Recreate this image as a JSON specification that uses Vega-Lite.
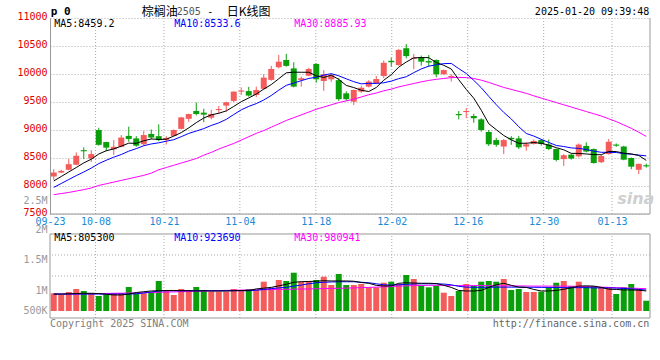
{
"$schema": "https://vega.github.io/schema/vega-lite/v6.json",
"width": 600,
"height": 300,
"autosize": {"type": "none"},
"padding": {"left": 50, "top": 18, "right": 10, "bottom": 42},
"background": "#ffffff",
"config": {"view": {"stroke": null}},
"datasets": {"k": [
{"d":"09-23","o":8170,"h":8300,"l":8110,"c":8240,"v":845000,"m5":8090,"m10":7975,"m30":7845,"vm5":830000,"vm10":830000,"vm30":825000},
{"d":"09-24","o":8240,"h":8290,"l":8230,"c":8270,"v":812000,"m5":8170,"m10":8045,"m30":7865,"vm5":830000,"vm10":830000,"vm30":828000},
{"d":"09-25","o":8290,"h":8480,"l":8280,"c":8390,"v":870000,"m5":8250,"m10":8115,"m30":7885,"vm5":835000,"vm10":830000,"vm30":830000},
{"d":"09-26","o":8380,"h":8600,"l":8370,"c":8540,"v":929000,"m5":8330,"m10":8185,"m30":7910,"vm5":840000,"vm10":830000,"vm30":833000},
{"d":"09-27","o":8640,"h":8690,"l":8480,"c":8620,"v":890000,"m5":8412,"m10":8250,"m30":7935,"vm5":845000,"vm10":830000,"vm30":835000},
{"d":"09-30","o":8490,"h":8640,"l":8430,"c":8570,"v":845000,"m5":8478,"m10":8320,"m30":7965,"vm5":845000,"vm10":830000,"vm30":838000},
{"d":"10-08","o":9000,"h":9040,"l":8720,"c":8735,"v":792000,"m5":8571,"m10":8400,"m30":8010,"vm5":840000,"vm10":830000,"vm30":840000},
{"d":"10-09","o":8785,"h":8790,"l":8620,"c":8685,"v":818000,"m5":8630,"m10":8460,"m30":8040,"vm5":825000,"vm10":830000,"vm30":842000},
{"d":"10-10","o":8655,"h":8820,"l":8555,"c":8700,"v":851000,"m5":8662,"m10":8515,"m30":8070,"vm5":812000,"vm10":830000,"vm30":845000},
{"d":"10-11","o":8700,"h":8910,"l":8690,"c":8865,"v":851000,"m5":8711,"m10":8562,"m30":8100,"vm5":812000,"vm10":830000,"vm30":847000},
{"d":"10-14","o":8895,"h":9060,"l":8790,"c":8840,"v":968000,"m5":8765,"m10":8622,"m30":8130,"vm5":830000,"vm10":830000,"vm30":850000},
{"d":"10-15","o":8850,"h":8890,"l":8700,"c":8720,"v":845000,"m5":8762,"m10":8667,"m30":8160,"vm5":860000,"vm10":835000,"vm30":853000},
{"d":"10-16","o":8745,"h":8980,"l":8720,"c":8910,"v":845000,"m5":8807,"m10":8719,"m30":8190,"vm5":875000,"vm10":850000,"vm30":856000},
{"d":"10-17","o":8930,"h":9010,"l":8835,"c":8865,"v":864000,"m5":8840,"m10":8751,"m30":8230,"vm5":890000,"vm10":870000,"vm30":860000},
{"d":"10-18","o":8890,"h":9100,"l":8800,"c":8820,"v":1084000,"m5":8831,"m10":8771,"m30":8290,"vm5":895000,"vm10":890000,"vm30":864000},
{"d":"10-21","o":8825,"h":8890,"l":8740,"c":8860,"v":909000,"m5":8835,"m10":8800,"m30":8330,"vm5":900000,"vm10":895000,"vm30":868000},
{"d":"10-22","o":8895,"h":9010,"l":8890,"c":9000,"v":812000,"m5":8891,"m10":8827,"m30":8370,"vm5":900000,"vm10":895000,"vm30":872000},
{"d":"10-23","o":9020,"h":9235,"l":9010,"c":9225,"v":929000,"m5":8954,"m10":8881,"m30":8410,"vm5":895000,"vm10":895000,"vm30":876000},
{"d":"10-24","o":9200,"h":9290,"l":9145,"c":9285,"v":909000,"m5":9038,"m10":8939,"m30":8450,"vm5":895000,"vm10":895000,"vm30":880000},
{"d":"10-25","o":9340,"h":9490,"l":9260,"c":9285,"v":968000,"m5":9131,"m10":8981,"m30":8490,"vm5":890000,"vm10":895000,"vm30":884000},
{"d":"10-28","o":9310,"h":9380,"l":9140,"c":9275,"v":909000,"m5":9214,"m10":9025,"m30":8550,"vm5":895000,"vm10":895000,"vm30":888000},
{"d":"10-29","o":9220,"h":9360,"l":9190,"c":9285,"v":877000,"m5":9271,"m10":9081,"m30":8600,"vm5":890000,"vm10":895000,"vm30":892000},
{"d":"10-30","o":9355,"h":9430,"l":9290,"c":9375,"v":877000,"m5":9299,"m10":9127,"m30":8660,"vm5":890000,"vm10":895000,"vm30":896000},
{"d":"10-31","o":9435,"h":9505,"l":9330,"c":9495,"v":877000,"m5":9341,"m10":9190,"m30":8710,"vm5":890000,"vm10":895000,"vm30":900000},
{"d":"11-01","o":9520,"h":9690,"l":9500,"c":9685,"v":929000,"m5":9421,"m10":9276,"m30":8760,"vm5":895000,"vm10":895000,"vm30":905000},
{"d":"11-04","o":9685,"h":9760,"l":9625,"c":9705,"v":890000,"m5":9506,"m10":9360,"m30":8820,"vm5":900000,"vm10":895000,"vm30":907000},
{"d":"11-05","o":9695,"h":9770,"l":9595,"c":9615,"v":929000,"m5":9572,"m10":9422,"m30":8880,"vm5":900000,"vm10":895000,"vm30":910000},
{"d":"11-06","o":9625,"h":9775,"l":9585,"c":9715,"v":909000,"m5":9642,"m10":9471,"m30":8940,"vm5":930000,"vm10":905000,"vm30":912000},
{"d":"11-07","o":9735,"h":9995,"l":9720,"c":9935,"v":1071000,"m5":9730,"m10":9536,"m30":8990,"vm5":945000,"vm10":920000,"vm30":915000},
{"d":"11-08","o":9895,"h":10145,"l":9880,"c":10090,"v":954000,"m5":9811,"m10":9616,"m30":9050,"vm5":960000,"vm10":935000,"vm30":917000},
{"d":"11-11","o":10120,"h":10340,"l":10100,"c":10220,"v":1104000,"m5":9915,"m10":9711,"m30":9110,"vm5":990000,"vm10":950000,"vm30":920000},
{"d":"11-12","o":10250,"h":10360,"l":10130,"c":10145,"v":1084000,"m5":10021,"m10":9797,"m30":9170,"vm5":1020000,"vm10":960000,"vm30":922000},
{"d":"11-13","o":10100,"h":10210,"l":9760,"c":9775,"v":1246000,"m5":10033,"m10":9838,"m30":9220,"vm5":1060000,"vm10":985000,"vm30":925000},
{"d":"11-14","o":9895,"h":9955,"l":9775,"c":9925,"v":1071000,"m5":10031,"m10":9881,"m30":9270,"vm5":1071000,"vm10":1005000,"vm30":928000},
{"d":"11-15","o":9970,"h":10110,"l":9960,"c":10090,"v":1084000,"m5":10031,"m10":9921,"m30":9320,"vm5":1075000,"vm10":1030000,"vm30":930000},
{"d":"11-18","o":10180,"h":10190,"l":9845,"c":9905,"v":1104000,"m5":9968,"m10":9942,"m30":9370,"vm5":1080000,"vm10":1050000,"vm30":933000},
{"d":"11-19","o":9875,"h":10070,"l":9700,"c":9995,"v":1168000,"m5":9938,"m10":9980,"m30":9410,"vm5":1090000,"vm10":1060000,"vm30":937000},
{"d":"11-20","o":9905,"h":10010,"l":9860,"c":9980,"v":1006000,"m5":9979,"m10":10006,"m30":9450,"vm5":1085000,"vm10":1065000,"vm30":940000},
{"d":"11-21","o":9890,"h":9925,"l":9520,"c":9550,"v":1221000,"m5":9904,"m10":9968,"m30":9490,"vm5":1085000,"vm10":1070000,"vm30":942000},
{"d":"11-22","o":9655,"h":9690,"l":9520,"c":9550,"v":1006000,"m5":9796,"m10":9914,"m30":9520,"vm5":1085000,"vm10":1070000,"vm30":945000},
{"d":"11-25","o":9505,"h":9720,"l":9445,"c":9715,"v":1006000,"m5":9758,"m10":9863,"m30":9550,"vm5":1080000,"vm10":1070000,"vm30":950000},
{"d":"11-26","o":9685,"h":9790,"l":9660,"c":9755,"v":1026000,"m5":9710,"m10":9824,"m30":9590,"vm5":1055000,"vm10":1060000,"vm30":955000},
{"d":"11-27","o":9775,"h":9890,"l":9760,"c":9865,"v":961000,"m5":9687,"m10":9833,"m30":9630,"vm5":1040000,"vm10":1050000,"vm30":960000},
{"d":"11-28","o":9835,"h":9965,"l":9820,"c":9910,"v":961000,"m5":9759,"m10":9832,"m30":9660,"vm5":1000000,"vm10":1030000,"vm30":965000},
{"d":"11-29","o":9965,"h":10240,"l":9925,"c":10200,"v":1051000,"m5":9889,"m10":9843,"m30":9700,"vm5":987000,"vm10":1010000,"vm30":970000},
{"d":"12-02","o":10235,"h":10290,"l":10130,"c":10210,"v":1071000,"m5":9988,"m10":9873,"m30":9730,"vm5":990000,"vm10":1005000,"vm30":975000},
{"d":"12-03","o":10160,"h":10445,"l":10150,"c":10430,"v":1026000,"m5":10123,"m10":9917,"m30":9770,"vm5":1040000,"vm10":1010000,"vm30":985000},
{"d":"12-04","o":10460,"h":10535,"l":10280,"c":10320,"v":1201000,"m5":10214,"m10":9951,"m30":9800,"vm5":1050000,"vm10":1020000,"vm30":990000},
{"d":"12-05","o":10270,"h":10360,"l":10085,"c":10290,"v":1123000,"m5":10289,"m10":10024,"m30":9830,"vm5":1045000,"vm10":1026000,"vm30":995000},
{"d":"12-06","o":10300,"h":10330,"l":10150,"c":10220,"v":993000,"m5":10293,"m10":10091,"m30":9860,"vm5":1040000,"vm10":1030000,"vm30":998000},
{"d":"12-09","o":10230,"h":10340,"l":10130,"c":10205,"v":961000,"m5":10292,"m10":10140,"m30":9885,"vm5":1040000,"vm10":1030000,"vm30":1000000},
{"d":"12-10","o":10250,"h":10260,"l":9940,"c":9995,"v":993000,"m5":10205,"m10":10164,"m30":9905,"vm5":1035000,"vm10":1030000,"vm30":1000000},
{"d":"12-11","o":9995,"h":10080,"l":9990,"c":10070,"v":857000,"m5":10155,"m10":10185,"m30":9920,"vm5":1000000,"vm10":1025000,"vm30":1000000},
{"d":"12-12","o":9945,"h":9995,"l":9865,"c":9965,"v":792000,"m5":10089,"m10":10189,"m30":9935,"vm5":960000,"vm10":1010000,"vm30":998000},
{"d":"12-13","o":9285,"h":9340,"l":9190,"c":9265,"v":890000,"m5":9898,"m10":10096,"m30":9940,"vm5":900000,"vm10":980000,"vm30":995000},
{"d":"12-16","o":9320,"h":9390,"l":9210,"c":9340,"v":1026000,"m5":9725,"m10":10009,"m30":9935,"vm5":890000,"vm10":965000,"vm30":995000},
{"d":"12-17","o":9250,"h":9290,"l":9130,"c":9210,"v":993000,"m5":9568,"m10":9887,"m30":9920,"vm5":890000,"vm10":962000,"vm30":995000},
{"d":"12-18","o":9190,"h":9210,"l":8970,"c":9000,"v":1071000,"m5":9354,"m10":9755,"m30":9890,"vm5":900000,"vm10":962000,"vm30":995000},
{"d":"12-19","o":8965,"h":9000,"l":8715,"c":8745,"v":1084000,"m5":9112,"m10":9601,"m30":9850,"vm5":960000,"vm10":962000,"vm30":993000},
{"d":"12-20","o":8820,"h":8860,"l":8700,"c":8735,"v":1071000,"m5":9006,"m10":9452,"m30":9805,"vm5":1010000,"vm10":965000,"vm30":992000},
{"d":"12-23","o":8705,"h":8840,"l":8570,"c":8820,"v":1123000,"m5":8902,"m10":9314,"m30":9760,"vm5":1040000,"vm10":965000,"vm30":990000},
{"d":"12-24","o":8860,"h":8890,"l":8735,"c":8835,"v":909000,"m5":8825,"m10":9197,"m30":9725,"vm5":1000000,"vm10":965000,"vm30":990000},
{"d":"12-25","o":8850,"h":8895,"l":8660,"c":8690,"v":929000,"m5":8763,"m10":9059,"m30":9690,"vm5":965000,"vm10":965000,"vm30":988000},
{"d":"12-26","o":8705,"h":8780,"l":8630,"c":8745,"v":870000,"m5":8763,"m10":8938,"m30":9655,"vm5":960000,"vm10":962000,"vm30":987000},
{"d":"12-27","o":8750,"h":8830,"l":8740,"c":8805,"v":870000,"m5":8777,"m10":8892,"m30":9610,"vm5":920000,"vm10":962000,"vm30":985000},
{"d":"12-30","o":8820,"h":8840,"l":8720,"c":8750,"v":877000,"m5":8763,"m10":8833,"m30":9570,"vm5":890000,"vm10":960000,"vm30":985000},
{"d":"12-31","o":8740,"h":8830,"l":8640,"c":8660,"v":962000,"m5":8730,"m10":8778,"m30":9530,"vm5":890000,"vm10":960000,"vm30":985000},
{"d":"01-02","o":8660,"h":8670,"l":8440,"c":8465,"v":1051000,"m5":8685,"m10":8724,"m30":9490,"vm5":900000,"vm10":958000,"vm30":985000},
{"d":"01-03","o":8480,"h":8570,"l":8360,"c":8550,"v":1084000,"m5":8646,"m10":8705,"m30":9450,"vm5":923000,"vm10":955000,"vm30":985000},
{"d":"01-06","o":8560,"h":8580,"l":8470,"c":8490,"v":987000,"m5":8583,"m10":8680,"m30":9410,"vm5":950000,"vm10":955000,"vm30":983000},
{"d":"01-07","o":8530,"h":8760,"l":8510,"c":8740,"v":1071000,"m5":8581,"m10":8672,"m30":9370,"vm5":985000,"vm10":955000,"vm30":980000},
{"d":"01-08","o":8715,"h":8780,"l":8600,"c":8615,"v":987000,"m5":8572,"m10":8651,"m30":9330,"vm5":990000,"vm10":955000,"vm30":975000},
{"d":"01-09","o":8660,"h":8670,"l":8400,"c":8410,"v":987000,"m5":8561,"m10":8623,"m30":9290,"vm5":985000,"vm10":950000,"vm30":970000},
{"d":"01-10","o":8425,"h":8560,"l":8410,"c":8535,"v":962000,"m5":8558,"m10":8602,"m30":9250,"vm5":960000,"vm10":950000,"vm30":965000},
{"d":"01-13","o":8570,"h":8840,"l":8560,"c":8790,"v":962000,"m5":8618,"m10":8601,"m30":9200,"vm5":925000,"vm10":950000,"vm30":960000},
{"d":"01-14","o":8740,"h":8760,"l":8700,"c":8720,"v":831000,"m5":8615,"m10":8598,"m30":9150,"vm5":920000,"vm10":945000,"vm30":955000},
{"d":"01-15","o":8705,"h":8720,"l":8460,"c":8470,"v":962000,"m5":8586,"m10":8579,"m30":9090,"vm5":910000,"vm10":940000,"vm30":950000},
{"d":"01-16","o":8500,"h":8510,"l":8300,"c":8345,"v":1026000,"m5":8573,"m10":8567,"m30":9030,"vm5":910000,"vm10":930000,"vm30":945000},
{"d":"01-17","o":8290,"h":8400,"l":8215,"c":8395,"v":923000,"m5":8545,"m10":8552,"m30":8960,"vm5":905000,"vm10":920000,"vm30":940000},
{"d":"01-20","o":8370,"h":8400,"l":8330,"c":8350,"v":700000,"m5":8458,"m10":8538,"m30":8886,"vm5":890000,"vm10":909000,"vm30":935000}
]},
"data": {"name": "k"},
"resolve": {"scale": {"x": "independent", "y": "independent"}, "axis": {"x": "independent", "y": "independent"}},
"layer": [
{
"layer": [
{"mark": {"type": "rule", "color": "#aaaaaa", "strokeDash": [1, 2], "strokeWidth": 1},
"encoding": {
"x": {"field": "d", "type": "ordinal", "scale": {"type": "point", "padding": 0, "domain": ["09-23","09-24","09-25","09-26","09-27","09-30","10-08","10-09","10-10","10-11","10-14","10-15","10-16","10-17","10-18","10-21","10-22","10-23","10-24","10-25","10-28","10-29","10-30","10-31","11-01","11-04","11-05","11-06","11-07","11-08","11-11","11-12","11-13","11-14","11-15","11-18","11-19","11-20","11-21","11-22","11-25","11-26","11-27","11-28","11-29","12-02","12-03","12-04","12-05","12-06","12-09","12-10","12-11","12-12","12-13","12-16","12-17","12-18","12-19","12-20","12-23","12-24","12-25","12-26","12-27","12-30","12-31","01-02","01-03","01-06","01-07","01-08","01-09","01-10","01-13","01-14","01-15","01-16","01-17","01-20"]},
"axis": {"orient": "bottom", "values": ["09-23","10-08","10-21","11-04","11-18","12-02","12-16","12-30","01-13"], "offset": -104, "domain": false, "ticks": false, "tickSize": 0, "grid": false, "labelColor": "#1a8ad4", "labelFont": "DejaVu Sans Mono", "labelFontSize": 10, "labelPadding": 2.5, "labelAngle": 0, "labelOverlap": false, "title": null}},
"y": {"datum": 7500, "type": "quantitative", "scale": {"domain": [7500, 11000], "range": [196, 0], "zero": false, "nice": false}, "axis": null},
"y2": {"datum": 11000},
"opacity": {"condition": {"test": "indexof(['10-08','10-21','11-04','11-18','12-02','12-16','12-30','01-13'], datum.d) >= 0", "value": 1}, "value": 0}
}},
{"data": {"values": [{}]}, "mark": {"type": "rule", "color": "#999999", "strokeWidth": 1},
"encoding": {"y": {"datum": 7500, "type": "quantitative"}}},
{"data": {"values": [{}]}, "mark": {"type": "rule", "color": "#999999", "strokeWidth": 1},
"encoding": {"x": {"datum": "01-20", "type": "ordinal"}, "y": {"datum": 7500, "type": "quantitative"}, "y2": {"datum": 11000}}}
]
},
{
"layer": [
{"mark": {"type": "rule", "color": "#aaaaaa", "strokeDash": [1, 2], "strokeWidth": 1},
"encoding": {
"x": {"field": "d", "type": "ordinal", "scale": {"type": "point", "padding": 0, "domain": ["09-23","09-24","09-25","09-26","09-27","09-30","10-08","10-09","10-10","10-11","10-14","10-15","10-16","10-17","10-18","10-21","10-22","10-23","10-24","10-25","10-28","10-29","10-30","10-31","11-01","11-04","11-05","11-06","11-07","11-08","11-11","11-12","11-13","11-14","11-15","11-18","11-19","11-20","11-21","11-22","11-25","11-26","11-27","11-28","11-29","12-02","12-03","12-04","12-05","12-06","12-09","12-10","12-11","12-12","12-13","12-16","12-17","12-18","12-19","12-20","12-23","12-24","12-25","12-26","12-27","12-30","12-31","01-02","01-03","01-06","01-07","01-08","01-09","01-10","01-13","01-14","01-15","01-16","01-17","01-20"]}, "axis": null},
"y": {"datum": 363600, "type": "quantitative", "scale": {"domain": [363600, 2603890], "range": [300, 185], "zero": false, "nice": false}, "axis": null},
"y2": {"datum": 2000000},
"opacity": {"condition": {"test": "indexof(['10-08','10-21','11-04','11-18','12-02','12-16','12-30','01-13'], datum.d) >= 0", "value": 1}, "value": 0}
}},
{"data": {"values": [{}]}, "mark": {"type": "rule", "color": "#aaaaaa", "strokeDash": [1, 2], "strokeWidth": 1},
"encoding": {"y": {"datum": 1591000, "type": "quantitative"}}},
{"data": {"values": [{}]}, "mark": {"type": "rule", "color": "#aaaaaa", "strokeDash": [1, 2], "strokeWidth": 1},
"encoding": {"y": {"datum": 1182000, "type": "quantitative"}}},
{"data": {"values": [{}]}, "mark": {"type": "rule", "color": "#999999", "strokeWidth": 1},
"encoding": {"y": {"datum": 2000000, "type": "quantitative"}}},
{"data": {"values": [{}]}, "mark": {"type": "rule", "color": "#999999", "strokeWidth": 1},
"encoding": {"y": {"datum": 363600, "type": "quantitative"}}},
{"data": {"values": [{}]}, "mark": {"type": "rule", "color": "#999999", "strokeWidth": 1},
"encoding": {"x": {"datum": "09-23", "type": "ordinal"}, "y": {"datum": 363600, "type": "quantitative"}, "y2": {"datum": 2000000}}},
{"data": {"values": [{}]}, "mark": {"type": "rule", "color": "#999999", "strokeWidth": 1},
"encoding": {"x": {"datum": "01-20", "type": "ordinal"}, "y": {"datum": 363600, "type": "quantitative"}, "y2": {"datum": 2000000}}}
]
},
{
"layer": [
{"mark": {"type": "rule", "strokeWidth": 1},
"encoding": {
"x": {"field": "d", "type": "ordinal", "sort": null, "scale": {"type": "band", "paddingInner": 0.2, "paddingOuter": 0.1, "domain": ["09-23","09-24","09-25","09-26","09-27","09-30","10-08","10-09","10-10","10-11","10-14","10-15","10-16","10-17","10-18","10-21","10-22","10-23","10-24","10-25","10-28","10-29","10-30","10-31","11-01","11-04","11-05","11-06","11-07","11-08","11-11","11-12","11-13","11-14","11-15","11-18","11-19","11-20","11-21","11-22","11-25","11-26","11-27","11-28","11-29","12-02","12-03","12-04","12-05","12-06","12-09","12-10","12-11","12-12","12-13","12-16","12-17","12-18","12-19","12-20","12-23","12-24","12-25","12-26","12-27","12-30","12-31","01-02","01-03","01-06","01-07","01-08","01-09","01-10","01-13","01-14","01-15","01-16","01-17","01-20"]}, "axis": null},
"y": {"field": "l", "type": "quantitative", "scale": {"domain": [7500, 11000], "range": [196, 0], "zero": false, "nice": false},
"axis": {"orient": "left", "values": [7500, 8000, 8500, 9000, 9500, 10000, 10500, 11000], "format": "d", "grid": true, "gridColor": "#aaaaaa", "gridDash": [1, 2], "gridWidth": 1, "domain": true, "domainColor": "#999999", "ticks": false, "tickSize": 0, "labelColor": "#dd0000", "labelFont": "DejaVu Sans Mono", "labelFontSize": 10, "labelPadding": 3, "labelOffset": -2, "labelOverlap": false, "labelFlush": false, "title": null}},
"y2": {"field": "h"},
"color": {"condition": {"test": "datum.c >= datum.o", "value": "#f45b5b"}, "value": "#0a9f0a"}
}},
{"mark": {"type": "bar"},
"encoding": {
"x": {"field": "d", "type": "ordinal", "sort": null},
"y": {"field": "o", "type": "quantitative"},
"y2": {"field": "c"},
"color": {"condition": {"test": "datum.c >= datum.o", "value": "#f45b5b"}, "value": "#0a9f0a"}
}},
{"mark": {"type": "line", "strokeWidth": 1, "color": "#ff00ff"},
"encoding": {"x": {"field": "d", "type": "ordinal", "sort": null}, "y": {"field": "m30", "type": "quantitative"}}},
{"mark": {"type": "line", "strokeWidth": 1, "color": "#0000ff"},
"encoding": {"x": {"field": "d", "type": "ordinal", "sort": null}, "y": {"field": "m10", "type": "quantitative"}}},
{"mark": {"type": "line", "strokeWidth": 1, "color": "#000000"},
"encoding": {"x": {"field": "d", "type": "ordinal", "sort": null}, "y": {"field": "m5", "type": "quantitative"}}},
{"data": {"values": [{}]}, "mark": {"type": "text", "text": "MA5:8459.2", "font": "DejaVu Sans Mono", "fontSize": 10, "align": "left", "baseline": "middle", "dx": 0.5, "color": "#000000"},
"encoding": {"x": {"datum": "09-23", "type": "ordinal"}, "y": {"datum": 10898, "type": "quantitative"}}},
{"data": {"values": [{}]}, "mark": {"type": "text", "text": "MA10:8533.6", "font": "DejaVu Sans Mono", "fontSize": 10, "align": "left", "baseline": "middle", "dx": 0.5, "color": "#0000ff"},
"encoding": {"x": {"datum": "10-22", "type": "ordinal"}, "y": {"datum": 10898, "type": "quantitative"}}},
{"data": {"values": [{}]}, "mark": {"type": "text", "text": "MA30:8885.93", "font": "DejaVu Sans Mono", "fontSize": 10, "align": "left", "baseline": "middle", "dx": 0.5, "color": "#ff00ff"},
"encoding": {"x": {"datum": "11-13", "type": "ordinal"}, "y": {"datum": 10898, "type": "quantitative"}}},
{"data": {"values": [{}]}, "mark": {"type": "text", "text": "p 0", "font": "DejaVu Sans Mono", "fontSize": 11, "fontWeight": "bold", "align": "left", "baseline": "middle", "dx": -3, "color": "#000000"},
"encoding": {"x": {"datum": "09-23", "type": "ordinal"}, "y": {"datum": 11112, "type": "quantitative"}}},
{"data": {"values": [{}]}, "mark": {"type": "text", "text": "棕榈油", "font": "Noto Sans CJK SC", "fontSize": 12, "align": "left", "baseline": "middle", "dx": -2, "color": "#000000"},
"encoding": {"x": {"datum": "10-16", "type": "ordinal"}, "y": {"datum": 11112, "type": "quantitative"}}},
{"data": {"values": [{}]}, "mark": {"type": "text", "text": "2505", "font": "DejaVu Sans Mono", "fontSize": 10, "align": "left", "baseline": "middle", "dx": 3, "color": "#555555"},
"encoding": {"x": {"datum": "10-22", "type": "ordinal"}, "y": {"datum": 11112, "type": "quantitative"}}},
{"data": {"values": [{}]}, "mark": {"type": "text", "text": "-", "font": "DejaVu Sans Mono", "fontSize": 10, "align": "center", "baseline": "middle", "dx": -1, "color": "#000000"},
"encoding": {"x": {"datum": "10-29", "type": "ordinal"}, "y": {"datum": 11112, "type": "quantitative"}}},
{"data": {"values": [{}]}, "mark": {"type": "text", "text": "日K线图", "font": "Noto Sans CJK SC", "fontSize": 12, "align": "left", "baseline": "middle", "dx": 0.5, "color": "#000000"},
"encoding": {"x": {"datum": "10-31", "type": "ordinal"}, "y": {"datum": 11112, "type": "quantitative"}}},
{"data": {"values": [{}]}, "mark": {"type": "text", "text": "2025-01-20 09:39:48", "font": "DejaVu Sans Mono", "fontSize": 10, "align": "right", "baseline": "middle", "dx": 3, "color": "#000000"},
"encoding": {"x": {"datum": "01-20", "type": "ordinal"}, "y": {"datum": 11112, "type": "quantitative"}}},
{"data": {"values": [{}]}, "mark": {"type": "text", "text": "sina", "font": "DejaVu Sans", "fontSize": 16, "fontStyle": "italic", "fontWeight": "bold", "align": "center", "baseline": "middle", "dx": -3, "color": "#cfcfcf"},
"encoding": {"x": {"datum": "01-17", "type": "ordinal"}, "y": {"datum": 7768, "type": "quantitative"}}}
]
},
{
"layer": [
{"mark": {"type": "bar"},
"encoding": {
"x": {"field": "d", "type": "ordinal", "sort": null, "scale": {"type": "band", "paddingInner": 0.2, "paddingOuter": 0.1, "domain": ["09-23","09-24","09-25","09-26","09-27","09-30","10-08","10-09","10-10","10-11","10-14","10-15","10-16","10-17","10-18","10-21","10-22","10-23","10-24","10-25","10-28","10-29","10-30","10-31","11-01","11-04","11-05","11-06","11-07","11-08","11-11","11-12","11-13","11-14","11-15","11-18","11-19","11-20","11-21","11-22","11-25","11-26","11-27","11-28","11-29","12-02","12-03","12-04","12-05","12-06","12-09","12-10","12-11","12-12","12-13","12-16","12-17","12-18","12-19","12-20","12-23","12-24","12-25","12-26","12-27","12-30","12-31","01-02","01-03","01-06","01-07","01-08","01-09","01-10","01-13","01-14","01-15","01-16","01-17","01-20"]}, "axis": null},
"y": {"field": "v", "type": "quantitative", "scale": {"domain": [363600, 2603890], "range": [300, 185], "zero": false, "nice": false},
"axis": {"orient": "left", "values": [500000, 1000000, 1500000, 2000000, 2500000], "labelExpr": "datum.value == 500000 ? '500K' : (datum.value / 1000000) + 'M'", "grid": false, "domain": false, "ticks": false, "tickSize": 0, "labelColor": "#999999", "labelFont": "DejaVu Sans Mono", "labelFontSize": 10, "labelPadding": 3, "labelOffset": {"condition": [{"test": "datum.value == 2500000", "value": -7.6}, {"test": "datum.value == 2000000", "value": -4}, {"test": "datum.value == 1000000", "value": 5.4}], "value": 0}, "labelOverlap": false, "labelFlush": false, "title": null}},
"y2": {"datum": 500000},
"color": {"condition": {"test": "datum.c >= datum.o", "value": "#f45b5b"}, "value": "#0a9f0a"}
}},
{"mark": {"type": "line", "strokeWidth": 1, "color": "#ff00ff"},
"encoding": {"x": {"field": "d", "type": "ordinal", "sort": null}, "y": {"field": "vm30", "type": "quantitative"}}},
{"mark": {"type": "line", "strokeWidth": 1, "color": "#0000ff"},
"encoding": {"x": {"field": "d", "type": "ordinal", "sort": null}, "y": {"field": "vm10", "type": "quantitative"}}},
{"mark": {"type": "line", "strokeWidth": 1, "color": "#000000"},
"encoding": {"x": {"field": "d", "type": "ordinal", "sort": null}, "y": {"field": "vm5", "type": "quantitative"}}},
{"data": {"values": [{}]}, "mark": {"type": "text", "text": "MA5:805300", "font": "DejaVu Sans Mono", "fontSize": 10, "align": "left", "baseline": "middle", "dx": 0.5, "color": "#000000"},
"encoding": {"x": {"datum": "09-23", "type": "ordinal"}, "y": {"datum": 1916000, "type": "quantitative"}}},
{"data": {"values": [{}]}, "mark": {"type": "text", "text": "MA10:923690", "font": "DejaVu Sans Mono", "fontSize": 10, "align": "left", "baseline": "middle", "dx": 0.5, "color": "#0000ff"},
"encoding": {"x": {"datum": "10-22", "type": "ordinal"}, "y": {"datum": 1916000, "type": "quantitative"}}},
{"data": {"values": [{}]}, "mark": {"type": "text", "text": "MA30:980941", "font": "DejaVu Sans Mono", "fontSize": 10, "align": "left", "baseline": "middle", "dx": 0.5, "color": "#ff00ff"},
"encoding": {"x": {"datum": "11-13", "type": "ordinal"}, "y": {"datum": 1916000, "type": "quantitative"}}},
{"data": {"values": [{}]}, "mark": {"type": "text", "text": "Copyright 2025 SINA.COM", "font": "DejaVu Sans Mono", "fontSize": 10, "align": "left", "baseline": "middle", "dx": -3.75, "color": "#808080"},
"encoding": {"x": {"datum": "09-23", "type": "ordinal"}, "y": {"datum": 246700, "type": "quantitative"}}},
{"data": {"values": [{}]}, "mark": {"type": "text", "text": "http://finance.sina.com.cn", "font": "DejaVu Sans Mono", "fontSize": 10, "align": "right", "baseline": "middle", "dx": 3, "color": "#666666"},
"encoding": {"x": {"datum": "01-20", "type": "ordinal"}, "y": {"datum": 246700, "type": "quantitative"}}}
]
}
]
}
